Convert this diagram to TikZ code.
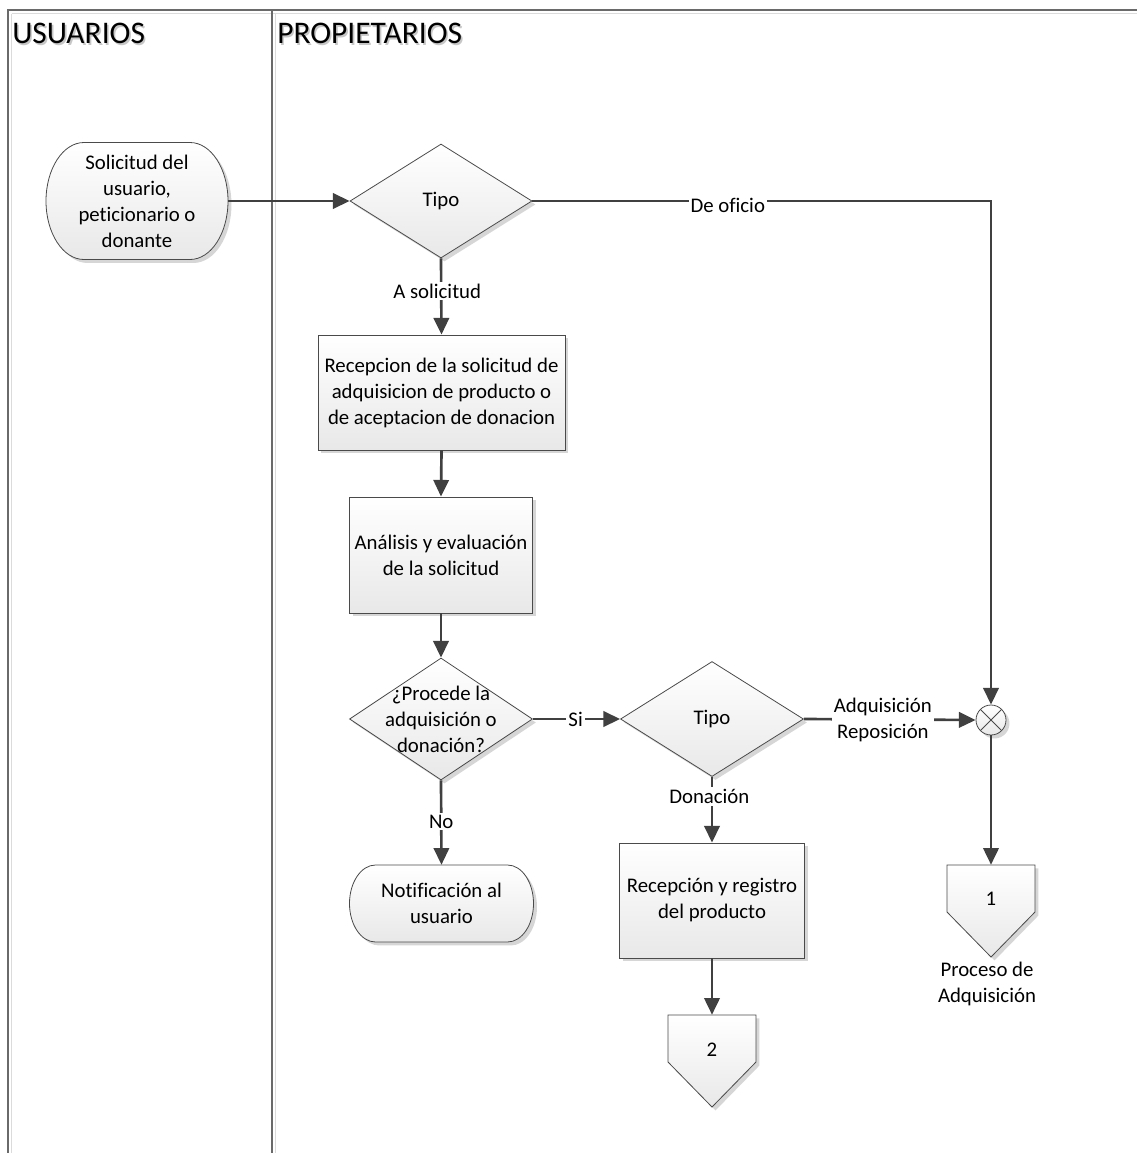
\documentclass[tikz,border=0pt]{standalone}
\usepackage{fontspec}
\setmainfont{Carlito}[Ligatures={NoCommon}]
\usetikzlibrary{shapes.geometric,arrows.meta,shadows}
\definecolor{linegray}{HTML}{404040}
\definecolor{edgegray}{HTML}{4A4A4A}
\definecolor{lanegray}{HTML}{6A6A6A}
\def\u{0.75pt}
\tikzset{
  every node/.style={font=\fontsize{15.6}{19.5}\selectfont, text=black},
  shapestyle/.style={draw=edgegray, line width=0.6pt, top color=white, bottom color=black!9,
    drop shadow={shadow xshift=2.6pt, shadow yshift=-2.6pt, fill=black!35, opacity=0.45}},
  procbox/.style={shapestyle, rectangle, inner sep=0pt, align=center},
  decision/.style={shapestyle, diamond, inner sep=0pt},
  ghost/.style={inner sep=0pt, align=center},
  flow/.style={draw=linegray, line width=2pt, -{Triangle[length=12.5pt,width=11.5pt]}},
  flowlabel/.style={fill=white, inner sep=1.5pt, align=center},
  lane/.style={draw=lanegray, line width=1.1pt},
  laneshade/.style={draw=black!14, line width=0.8pt},
  header/.style={font=\fontsize{23.6}{28}\selectfont, anchor=west, inner sep=0pt},
}
\begin{document}
\begin{tikzpicture}[x=0.75pt, y=0.75pt]
  \useasboundingbox[fill=white] (0,0) rectangle (1137,-1153);

  % swimlane frame
  \draw[laneshade] (11.5,-13.5) -- (1137,-13.5);
  \draw[laneshade] (11.5,-13.5) -- (11.5,-1153);
  \draw[laneshade] (275.8,-13.5) -- (275.8,-1153);
  \draw[lane] (1137,-10) -- (8,-10) -- (8,-1153);
  \draw[lane, line width=1.6pt] (272,-10) -- (272,-1153);

  % lane headers
  \node[header, text=black!22] (hdrUsShadow) at (13.6,-35.2) {USUARIOS};
  \node[header] (hdrUs) at (12,-33.5) {USUARIOS};
  \node[header, text=black!22] (hdrPrShadow) at (278.6,-35.2) {PROPIETARIOS};
  \node[header] (hdrPr) at (277,-33.5) {PROPIETARIOS};

  % terminator: request
  \path[shapestyle] (84,-142.5) -- (190,-142.5)
     arc[start angle=90, end angle=-90, x radius=38, y radius=58.5]
     -- (84,-259.5)
     arc[start angle=270, end angle=90, x radius=38, y radius=58.5] -- cycle;
  \node[ghost, minimum width=182*\u, minimum height=117*\u] (start) at (137,-201)
     {Solicitud del\\usuario,\\peticionario o\\donante};

  % first decision
  \node[decision, minimum width=182*\u, minimum height=114*\u] (d1) at (441,-201) {};
  \node[ghost] (d1text) at (d1.center) {Tipo};

  % processes
  \node[procbox, minimum width=247*\u, minimum height=115*\u] (r1) at (441.5,-392.5)
     {Recepcion de la solicitud de\\adquisicion de producto o\\de aceptacion de donacion};
  \node[procbox, minimum width=183*\u, minimum height=116*\u] (r2) at (441,-555)
     {Análisis y evaluación\\de la solicitud};

  % second decision
  \node[decision, minimum width=183*\u, minimum height=122*\u] (d2) at (441,-719) {};
  \node[ghost] (d2text) at (441,-719) {¿Procede la\\adquisición o\\donación?};

  % terminator: notification
  \path[shapestyle] (375.5,-865) -- (507.5,-865)
     arc[start angle=90, end angle=-90, x radius=26, y radius=38.5]
     -- (375.5,-942)
     arc[start angle=270, end angle=90, x radius=26, y radius=38.5] -- cycle;
  \node[ghost, minimum width=184*\u, minimum height=77*\u] (t2) at (441.5,-903.5)
     {Notificación al\\usuario};

  % third decision
  \node[decision, minimum width=183*\u, minimum height=115*\u] (d3) at (712,-719) {};
  \node[ghost] (d3text) at (d3.center) {Tipo};

  \node[procbox, minimum width=185*\u, minimum height=115*\u] (r3) at (712,-900.5)
     {Recepción y registro\\del producto};

  % junction
  \node[shapestyle, circle, minimum size=30*\u, inner sep=0pt,
     path picture={\draw[edgegray, line width=0.6pt]
       (path picture bounding box.north west) -- (path picture bounding box.south east)
       (path picture bounding box.north east) -- (path picture bounding box.south west);}]
     (jx) at (991,-720) {};

  % off-page connectors
  \path[shapestyle] (947,-865) -- (1035,-865) -- (1035,-912) -- (991,-957) -- (947,-912) -- cycle;
  \node[ghost, minimum width=88*\u, minimum height=68*\u] (off1) at (991,-899) {1};
  \node[ghost] (off1label) at (987,-984) {Proceso de\\Adquisición};

  \path[shapestyle] (668,-1015) -- (756,-1015) -- (756,-1062) -- (712,-1107) -- (668,-1062) -- cycle;
  \node[ghost, minimum width=88*\u, minimum height=70*\u] (off2) at (712,-1050) {2};

  % connectors
  \draw[flow] (start.east) -- (d1.west);
  \draw[flow] (d1.east) -| node[flowlabel, pos=0.213, yshift=-3pt] (lblOficio) {De oficio} (jx.north);
  \draw[flow] (d1.south) -- node[flowlabel, pos=0.43, xshift=-3pt] (lblSolicitud) {A solicitud} (r1.north);
  \draw[flow] (r1.south) -- (r2.north);
  \draw[flow] (r2.south) -- (d2.north);
  \draw[flow] (d2.east) -- node[flowlabel, pos=0.49] (lblSi) {Si} (d3.west);
  \draw[flow] (d2.south) -- node[flowlabel, pos=0.49] (lblNo) {No} (t2.north);
  \draw[flow] (d3.east) -- node[flowlabel, pos=0.46] (lblAR) {Adquisición\\Reposición} (jx.west);
  \draw[flow] (d3.south) -- node[flowlabel, pos=0.3, xshift=-2pt] (lblDon) {Donación} (r3.north);
  \draw[flow] (r3.south) -- (off2.north);
  \draw[flow] (jx.south) -- (off1.north);
\end{tikzpicture}
\end{document}
